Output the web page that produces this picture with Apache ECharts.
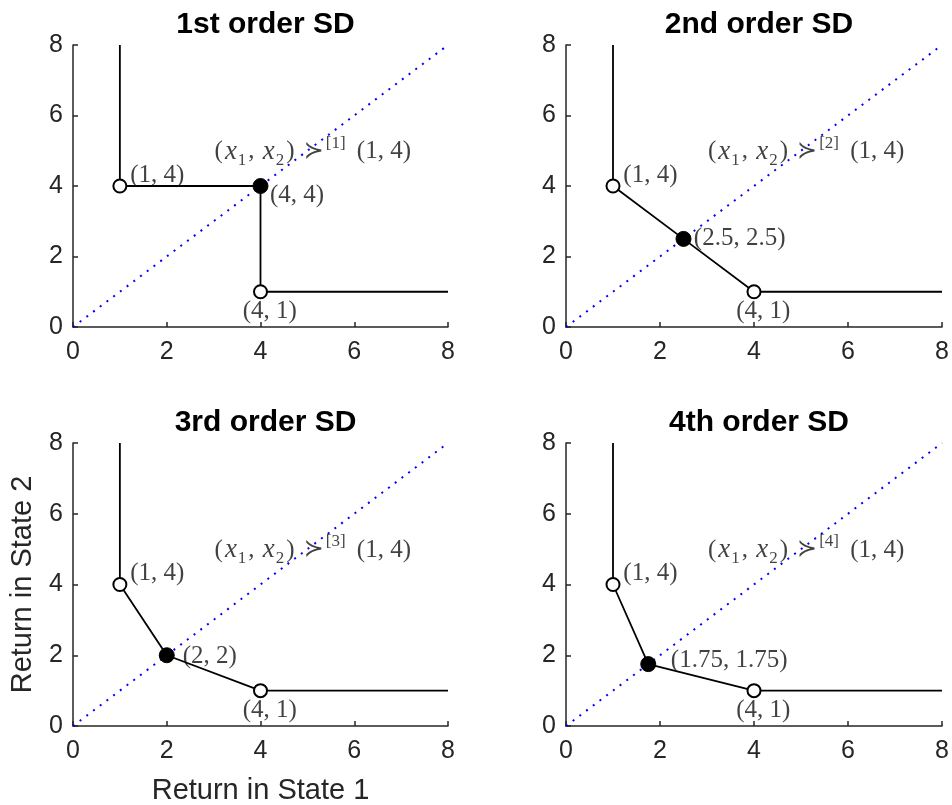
<!DOCTYPE html>
<html><head><meta charset="utf-8">
<script src="https://cdn.jsdelivr.net/npm/echarts@6/dist/echarts.min.js"></script>
<style>html,body{margin:0;padding:0;background:#fff}#c{width:952px;height:805px}</style>
</head><body><div id="c"></div>
<script>
// ---- data ----
const panelTitles = ['1st order SD', '2nd order SD', '3rd order SD', '4th order SD'];
const orderMarks = ['[1]', '[2]', '[3]', '[4]'];
const kinkX = [4, 2.5, 2, 1.75];
const kinkY = [4, 2.5, 2, 1.75];
const kinkLabels = ['(4, 4)', '(2.5, 2.5)', '(2, 2)', '(1.75, 1.75)'];
const openX = [1, 4];
const openY = [4, 1];
const openLabels = ['(1, 4)', '(4, 1)'];
const tailTopY = 8;
const tailRightX = 8;
const diagonalX = [0, 8];
const diagonalY = [0, 8];
const axisMin = 0, axisMax = 8, axisStep = 2;
const xAxisTitle = 'Return in State 1';
const yAxisTitle = 'Return in State 2';
// label anchor points (data coordinates)
const openLabelAnchors = [[1.22, 4.3], [3.62, 0.43]];
const kinkLabelAnchors = [[4.2, 3.72], [2.72, 2.52], [2.34, 1.98], [2.23, 1.84]];
const relationAnchor = [3.02, 4.97];

// ---- layout ----
const grids = [
  {left: 73, top: 45, width: 375, height: 282},
  {left: 566, top: 45, width: 376, height: 282},
  {left: 73, top: 443, width: 375, height: 283},
  {left: 566, top: 443, width: 376, height: 283}
];
const AX = '#262626';
const TXT = '#111';
const SANS = '"Liberation Sans", Arial, Helvetica, sans-serif';
const SERIF = '"Liberation Serif", "Times New Roman", serif';
const MATH = '"DejaVu Serif", "DejaVu Sans", serif';

const option = {
  animation: false,
  backgroundColor: '#fff',
  title: grids.map((g, i) => ({
    text: panelTitles[i],
    left: g.left + g.width / 2,
    top: g.top - 40,
    textAlign: 'center',
    textStyle: {fontFamily: SANS, fontWeight: 'bold', fontSize: 30, color: '#000'}
  })),
  grid: grids.map(g => Object.assign({containLabel: false, outerBoundsMode: 'none'}, g)),
  xAxis: grids.map((g, i) => ({
    type: 'value', gridIndex: i, min: axisMin, max: axisMax, interval: axisStep,
    name: i === 2 ? xAxisTitle : '', nameLocation: 'middle', nameGap: 50,
    nameTextStyle: {fontFamily: SANS, fontSize: 29, color: AX},
    axisLine: {show: true, onZero: false, lineStyle: {color: AX, width: 1.5}},
    axisTick: {show: true, inside: true, length: 5, lineStyle: {color: AX, width: 1.5}},
    axisLabel: {fontFamily: SANS, fontSize: 25, color: AX, margin: 13},
    splitLine: {show: false}
  })),
  yAxis: grids.map((g, i) => ({
    type: 'value', gridIndex: i, min: axisMin, max: axisMax, interval: axisStep,
    name: i === 2 ? yAxisTitle : '', nameLocation: 'middle', nameGap: 36,
    nameTextStyle: {fontFamily: SANS, fontSize: 29, color: AX},
    axisLine: {show: true, onZero: false, lineStyle: {color: AX, width: 1.5}},
    axisTick: {show: true, inside: true, length: 5, lineStyle: {color: AX, width: 1.5}},
    axisLabel: {fontFamily: SANS, fontSize: 25, color: AX, margin: 10},
    splitLine: {show: false}
  })),
  series: []
};

const labelBase = {show: true, position: 'inside', align: 'left', verticalAlign: 'middle',
  fontFamily: SERIF, fontSize: 25, color: TXT};

grids.forEach((g, i) => {
  // diagonal
  option.series.push({
    type: 'line', xAxisIndex: i, yAxisIndex: i, symbol: 'none', z: 1,
    data: diagonalX.map((x, k) => [x, diagonalY[k]]),
    lineStyle: {color: '#0000ff', width: 2, type: [2, 6.4], cap: 'butt'}
  });
  // frontier
  option.series.push({
    type: 'line', xAxisIndex: i, yAxisIndex: i, symbol: 'none', z: 2,
    data: [[openX[0], tailTopY], [openX[0], openY[0]], [kinkX[i], kinkY[i]], [openX[1], openY[1]], [tailRightX, openY[1]]],
    lineStyle: {color: '#000', width: 1.8}
  });
  // open circles
  option.series.push({
    type: 'scatter', xAxisIndex: i, yAxisIndex: i, symbol: 'circle', symbolSize: 13, z: 3,
    data: openX.map((x, k) => [x, openY[k]]),
    itemStyle: {color: '#fff', borderColor: '#000', borderWidth: 2, opacity: 1}
  });
  // filled kink point
  option.series.push({
    type: 'scatter', xAxisIndex: i, yAxisIndex: i, symbol: 'circle', symbolSize: 15, z: 3,
    data: [[kinkX[i], kinkY[i]]],
    itemStyle: {color: '#000', borderColor: '#000', borderWidth: 1, opacity: 1}
  });
  // point labels
  const labelData = openLabelAnchors.map((p, k) => ({value: p, name: openLabels[k]}))
    .concat([{value: kinkLabelAnchors[i], name: kinkLabels[i]}]);
  option.series.push({
    type: 'scatter', xAxisIndex: i, yAxisIndex: i, symbolSize: 0.01, z: 4, silent: true,
    itemStyle: {color: 'rgba(0,0,0,0)'},
    data: labelData,
    label: Object.assign({}, labelBase, {formatter: p => p.name})
  });
  // relation label
  option.series.push({
    type: 'scatter', xAxisIndex: i, yAxisIndex: i, symbolSize: 0.01, z: 4, silent: true,
    itemStyle: {color: 'rgba(0,0,0,0)'},
    data: [{value: relationAnchor, name: orderMarks[i]}],
    label: Object.assign({}, labelBase, {
      formatter: p => '{n|(}{i|x}{s|1}{n|, }{i|x}{s|2}{n|)}{r|≻}{p|' + p.name + '}{g| }{n|(1, 4)}',
      rich: {
        n: {fontFamily: SERIF, fontSize: 25, color: TXT, lineHeight: 34, verticalAlign: 'middle'},
        g: {fontFamily: SERIF, fontSize: 25, color: TXT, lineHeight: 34, verticalAlign: 'middle', padding: [0, 5, 0, 0]},
        r: {fontFamily: MATH, fontSize: 24, color: TXT, lineHeight: 34, verticalAlign: 'middle', padding: [0, 2, 0, 9]},
        i: {fontFamily: SERIF, fontStyle: 'italic', fontSize: 27, color: TXT, lineHeight: 34, verticalAlign: 'middle', padding: [0, 1, 0, 2]},
        s: {fontFamily: SERIF, fontSize: 17, color: TXT, lineHeight: 17, verticalAlign: 'bottom', padding: [0, 2, 0, 0]},
        p: {fontFamily: SERIF, fontSize: 17, color: TXT, lineHeight: 17, verticalAlign: 'top'}
      }
    })
  });
});

const chart = echarts.init(document.getElementById('c'), null, {renderer: 'canvas'});
chart.setOption(option);
</script>
</body></html>
